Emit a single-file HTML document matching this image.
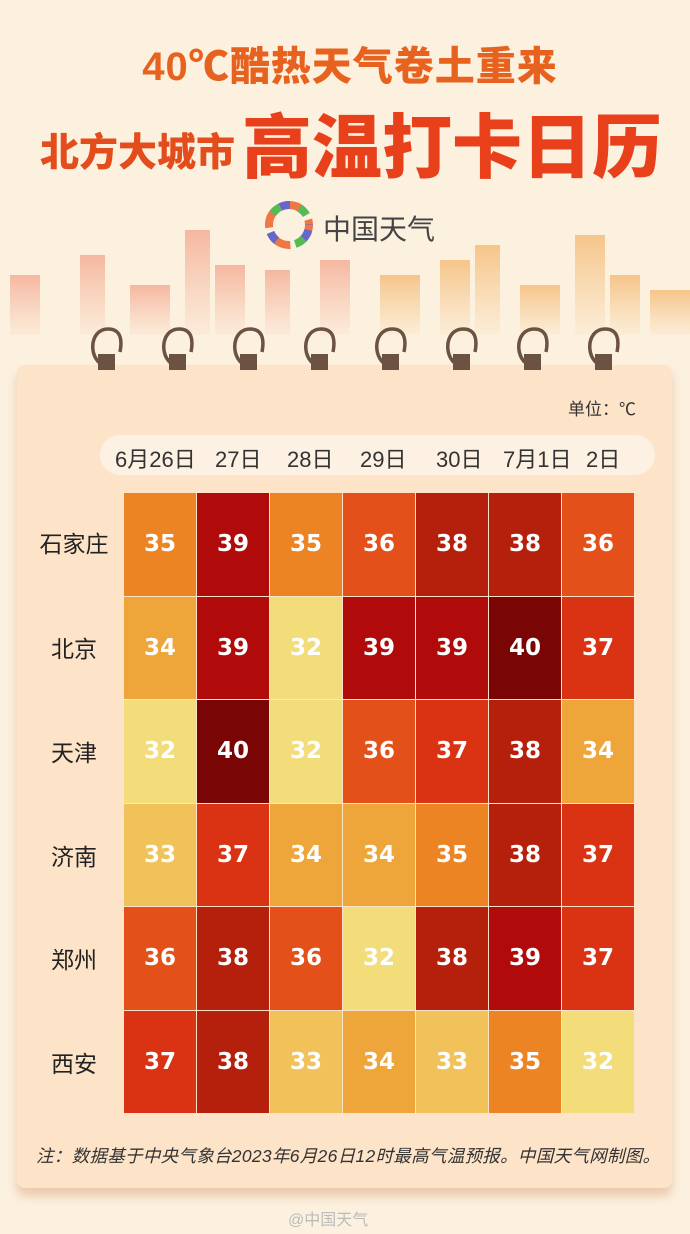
<!DOCTYPE html>
<html><head><meta charset="utf-8"><style>
*{margin:0;padding:0;box-sizing:border-box}
body{width:690px;height:1234px;overflow:hidden;background:#fcf1df;font-family:"Liberation Sans","Noto Sans CJK SC",sans-serif;position:relative}
.abs{position:absolute}
.t1{left:0;width:700px;top:34px;text-align:center;font-size:40px;font-weight:900;color:#e8621f;letter-spacing:1px;white-space:nowrap}
.t2{left:40px;top:122px;font-size:39px;font-weight:900;color:#e34d1c;white-space:nowrap}
.t3{left:242px;top:92px;font-size:70px;font-weight:900;color:#e8401a;letter-spacing:0px;white-space:nowrap}
.card{left:17px;top:365px;width:655px;height:823px;background:#fde3c8;border-radius:8px;box-shadow:0 8px 10px rgba(200,130,80,.35)}
.pill{left:100px;top:435px;width:555px;height:40px;background:#fdf1e4;border-radius:20px}
.date{top:442px;font-size:22px;color:#333;white-space:nowrap}
.city{left:34px;font-size:23px;color:#222;width:80px;text-align:center}
.cell{width:72px;height:102.5px;color:#fff;font-size:23px;font-weight:bold;display:flex;align-items:center;justify-content:center;font-family:"DejaVu Sans",sans-serif}
</style></head><body>
<svg class="abs" style="left:0;top:215px" width="690" height="120">
<defs><linearGradient id="fr" x1="0" y1="0" x2="0" y2="1"><stop offset="0" stop-color="#f4a890" stop-opacity=".8"/><stop offset="1" stop-color="#f4b8a0" stop-opacity=".1"/></linearGradient>
<linearGradient id="fo" x1="0" y1="0" x2="0" y2="1"><stop offset="0" stop-color="#f5c080" stop-opacity=".9"/><stop offset="1" stop-color="#f6c890" stop-opacity=".1"/></linearGradient></defs>
<g fill="url(#fr)">
<rect x="10" y="60" width="30" height="60"/><rect x="80" y="40" width="25" height="80"/><rect x="130" y="70" width="40" height="50"/><rect x="185" y="15" width="25" height="105"/><rect x="215" y="50" width="30" height="70"/><rect x="265" y="55" width="25" height="65"/><rect x="320" y="45" width="30" height="75"/></g>
<g fill="url(#fo)">
<rect x="380" y="60" width="40" height="60"/><rect x="440" y="45" width="30" height="75"/><rect x="475" y="30" width="25" height="90"/><rect x="520" y="70" width="40" height="50"/><rect x="575" y="20" width="30" height="100"/><rect x="610" y="60" width="30" height="60"/><rect x="650" y="75" width="40" height="45"/></g>
</svg>
<div class="abs t1">40℃酷热天气卷土重来</div>
<div class="abs t2">北方大城市</div>
<div class="abs t3">高温打卡日历</div>
<svg class="abs" style="left:263px;top:200px" width="52" height="50"><circle cx="26" cy="25" r="20" fill="none" stroke="#e74" stroke-width="8" stroke-dasharray="20 10"/><circle cx="26" cy="25" r="20" fill="none" stroke="#5b5" stroke-width="8" stroke-dasharray="10 20" stroke-dashoffset="-15"/><circle cx="26" cy="25" r="20" fill="none" stroke="#66c" stroke-width="8" stroke-dasharray="10 30" stroke-dashoffset="-45"/></svg>
<div class="abs" style="left:323px;top:208px;font-size:28px;color:#444">中国天气</div>
<div class="abs card"></div>
<div class="abs" style="left:88px;top:326px;width:570px;height:46px">
<svg width="570" height="46">
<g fill="none" stroke="#6b5242" stroke-width="3.5">
<path d="M18 40 C0 36 0 3 20 3 C34 3 34 16 32 26"/><path d="M89 40 C71 36 71 3 91 3 C105 3 105 16 103 26"/><path d="M160 40 C142 36 142 3 162 3 C176 3 176 16 174 26"/><path d="M231 40 C213 36 213 3 233 3 C247 3 247 16 245 26"/><path d="M302 40 C284 36 284 3 304 3 C318 3 318 16 316 26"/><path d="M373 40 C355 36 355 3 375 3 C389 3 389 16 387 26"/><path d="M444 40 C426 36 426 3 446 3 C460 3 460 16 458 26"/><path d="M515 40 C497 36 497 3 517 3 C531 3 531 16 529 26"/></g>
<g fill="#6b5242"><rect x="10" y="28" width="17" height="16"/><rect x="81" y="28" width="17" height="16"/><rect x="152" y="28" width="17" height="16"/><rect x="223" y="28" width="17" height="16"/><rect x="294" y="28" width="17" height="16"/><rect x="365" y="28" width="17" height="16"/><rect x="436" y="28" width="17" height="16"/><rect x="507" y="28" width="17" height="16"/></g></svg></div>
<div class="abs" style="left:568px;top:395px;font-size:17px;color:#333">单位：℃</div>
<div class="abs pill"></div>
<div class="abs date" style="left:115px">6月26日</div>
<div class="abs date" style="left:215px">27日</div>
<div class="abs date" style="left:287px">28日</div>
<div class="abs date" style="left:360px">29日</div>
<div class="abs date" style="left:436px">30日</div>
<div class="abs date" style="left:503px">7月1日</div>
<div class="abs date" style="left:586px">2日</div>
<div class="abs city" style="top:525px">石家庄</div>
<div class="abs city" style="top:630px">北京</div>
<div class="abs city" style="top:734px">天津</div>
<div class="abs city" style="top:838px">济南</div>
<div class="abs city" style="top:941px">郑州</div>
<div class="abs city" style="top:1045px">西安</div>
<div class="abs" style="left:124px;top:493px;width:511px;height:621px;display:grid;grid-template-columns:repeat(7,72px);grid-auto-rows:102.5px;gap:1px 1px;background:#fde3c8">
<div class="cell" style="background:#ec8424">35</div><div class="cell" style="background:#b00a0a">39</div><div class="cell" style="background:#ec8424">35</div><div class="cell" style="background:#e4501a">36</div><div class="cell" style="background:#b5200c">38</div><div class="cell" style="background:#b5200c">38</div><div class="cell" style="background:#e4501a">36</div>
<div class="cell" style="background:#eea53a">34</div><div class="cell" style="background:#b00a0a">39</div><div class="cell" style="background:#f3dc7a">32</div><div class="cell" style="background:#b00a0a">39</div><div class="cell" style="background:#b00a0a">39</div><div class="cell" style="background:#7a0505">40</div><div class="cell" style="background:#da3314">37</div>
<div class="cell" style="background:#f3dc7a">32</div><div class="cell" style="background:#7a0505">40</div><div class="cell" style="background:#f3dc7a">32</div><div class="cell" style="background:#e4501a">36</div><div class="cell" style="background:#da3314">37</div><div class="cell" style="background:#b5200c">38</div><div class="cell" style="background:#eea53a">34</div>
<div class="cell" style="background:#f2c25a">33</div><div class="cell" style="background:#da3314">37</div><div class="cell" style="background:#eea53a">34</div><div class="cell" style="background:#eea53a">34</div><div class="cell" style="background:#ec8424">35</div><div class="cell" style="background:#b5200c">38</div><div class="cell" style="background:#da3314">37</div>
<div class="cell" style="background:#e4501a">36</div><div class="cell" style="background:#b5200c">38</div><div class="cell" style="background:#e4501a">36</div><div class="cell" style="background:#f3dc7a">32</div><div class="cell" style="background:#b5200c">38</div><div class="cell" style="background:#b00a0a">39</div><div class="cell" style="background:#da3314">37</div>
<div class="cell" style="background:#da3314">37</div><div class="cell" style="background:#b5200c">38</div><div class="cell" style="background:#f2c25a">33</div><div class="cell" style="background:#eea53a">34</div><div class="cell" style="background:#f2c25a">33</div><div class="cell" style="background:#ec8424">35</div><div class="cell" style="background:#f3dc7a">32</div>
</div>
<div class="abs" style="left:36px;top:1143px;font-size:17.5px;color:#333;font-style:italic;white-space:nowrap;letter-spacing:0.3px">注：数据基于中央气象台2023年6月26日12时最高气温预报。中国天气网制图。</div>
<div class="abs" style="left:288px;top:1206px;font-size:16px;color:#bbb">@中国天气</div>
</body></html>
